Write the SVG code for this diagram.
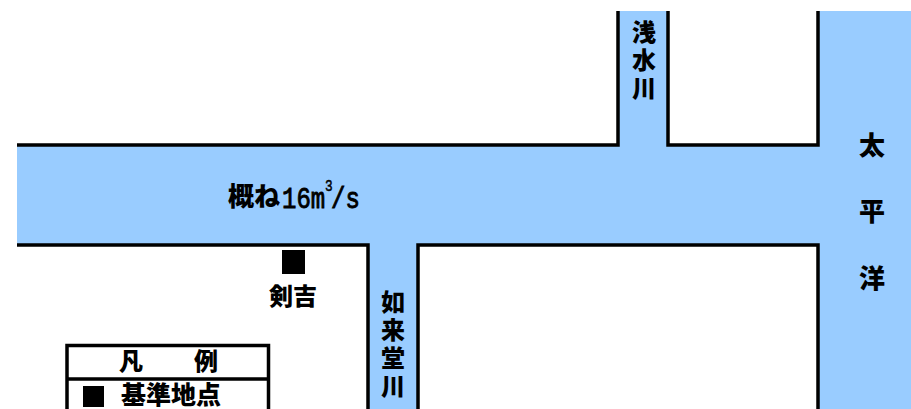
<svg xmlns="http://www.w3.org/2000/svg" width="911" height="409" viewBox="0 0 911 409">
<style>
.w{fill:#99ccff}
.l{fill:none;stroke:#000;stroke-width:3.5}
.t{font-family:"Noto Sans CJK JP","Noto Sans CJK SC",sans-serif;font-weight:900;font-size:24px;fill:#000;text-anchor:middle}
.b{font-size:26px}
.k{font-size:25px}
.n{font-family:"Liberation Mono",monospace;font-size:30px;fill:#000;stroke:#000;stroke-width:.9}
.s{font-size:16px;stroke-width:.5}
</style>
<rect width="911" height="409" fill="#fff"/>
<g id="water">
<path class="w" d="M17 145H618V11H668V145H818V11H911V409H818V245H418V409H368V245H17Z"/>
</g>
<g id="connectors">
<path class="l" d="M17 145H618V11"/>
<path class="l" d="M668 11V145H818V11"/>
<path class="l" d="M17 245H368V409"/>
<path class="l" d="M418 409V245H818V409"/>
</g>
<g id="pacific"><text class="t b" x="872" y="155">太</text><text class="t b" x="872" y="221">平</text><text class="t b" x="872" y="288">洋</text></g>
<g id="asamizu"><text class="t" x="644" y="41">浅</text><text class="t" x="644" y="69">水</text><text class="t" x="644" y="97">川</text></g>
<g id="nyoraido"><text class="t" x="393" y="311">如</text><text class="t" x="393" y="339">来</text><text class="t" x="393" y="367">堂</text><text class="t" x="393" y="395">川</text></g>
<g id="flow">
<text class="t b" x="254" y="206">概ね</text>
<text class="n" transform="translate(282 208) scale(.8 1)">16m</text>
<text class="n s" transform="translate(325 191) scale(.8 1)">3</text>
<text class="n" transform="translate(331 208) scale(.8 1)">/s</text>
</g>
<g id="tsurugi">
<rect x="282" y="250" width="23" height="24"/>
<text class="t" x="293" y="305">剣吉</text>
</g>
<g id="legend">
<path class="l" d="M67 409V345.500H268.500V409M67 379H268.500"/>
<text class="t" x="131" y="370">凡</text><text class="t" x="206" y="370">例</text>
<rect x="83" y="386" width="21" height="21"/>
<text class="t k" x="171" y="404">基準地点</text>
</g>
</svg>
